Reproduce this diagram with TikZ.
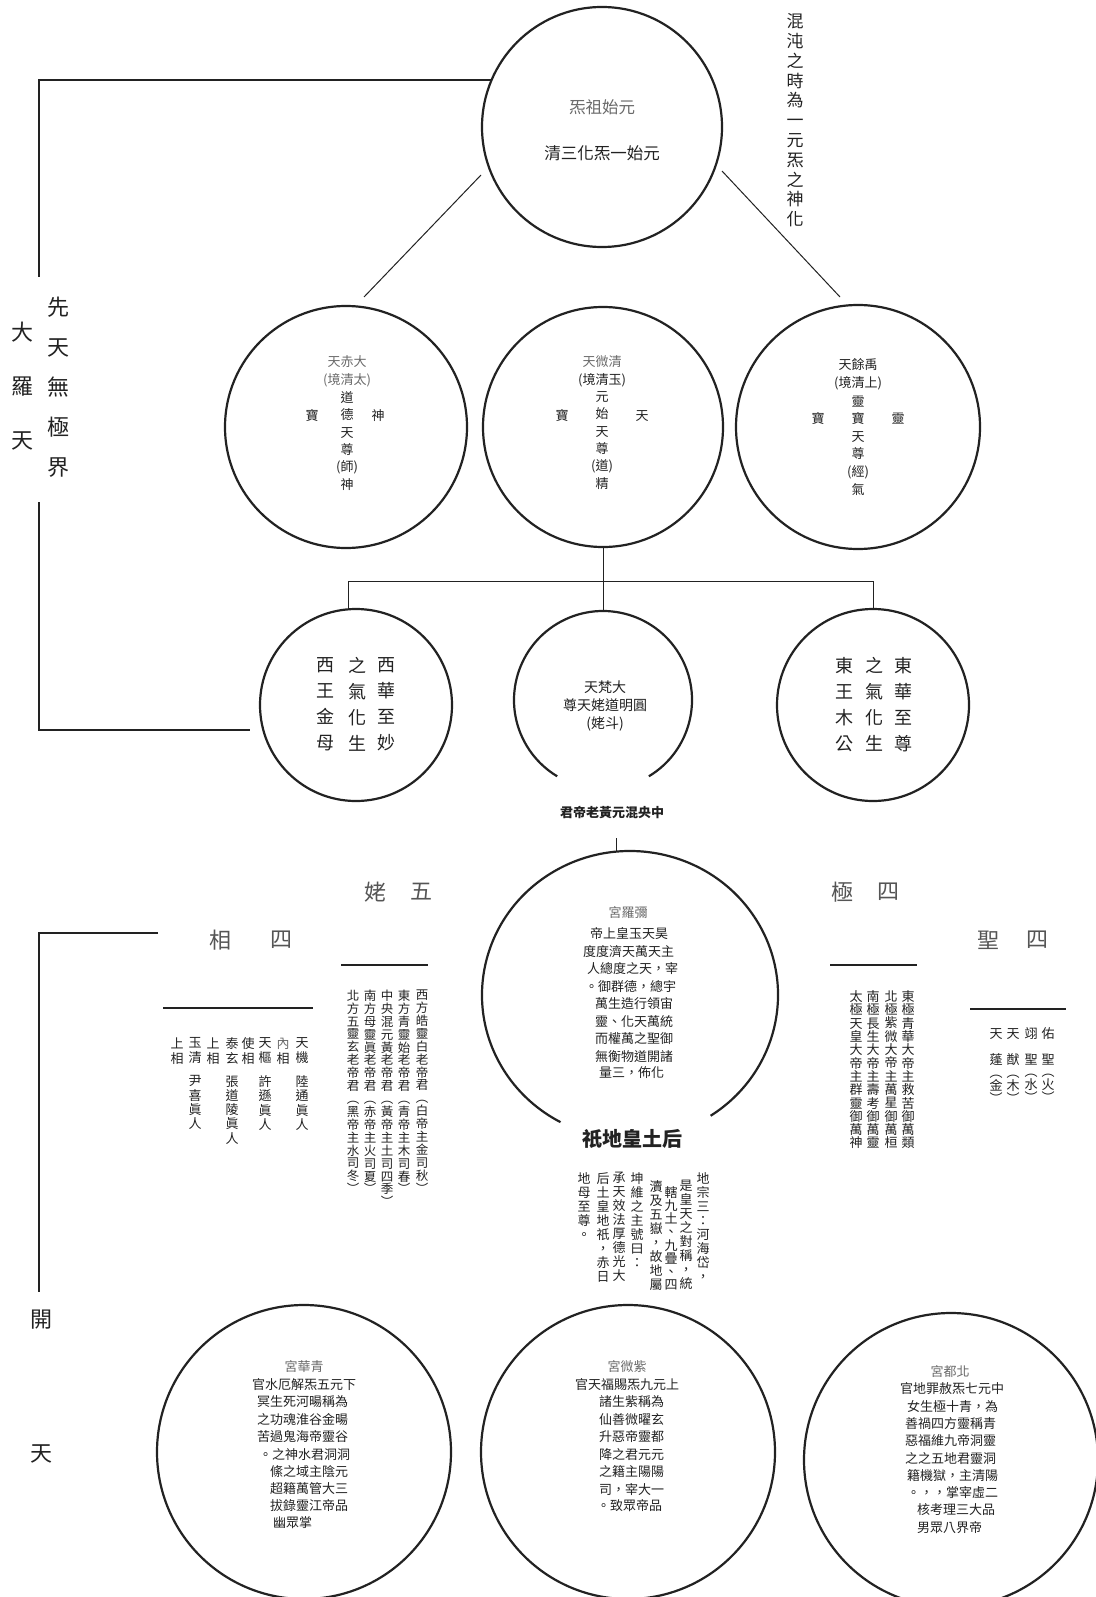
\documentclass[tikz,border=0pt]{standalone}
\usepackage{fontspec}
\setmainfont{Noto Sans CJK TC}
\usetikzlibrary{calc}
\definecolor{ink}{HTML}{222222}
\definecolor{ttl}{HTML}{6A6A6A}
\makeatletter
\newdimen\vtstep
\newcommand\vt[2]{\vtstep=#1\relax\vbox{\baselineskip=\vtstep\lineskip=0pt\lineskiplimit=-1000pt\expandafter\vt@a#2\@nil}}
\def\vt@a#1#2\@nil{\hbox to 1em{\hss#1\hss}\if\relax\detokenize{#2}\relax\else\vt@a#2\@nil\fi}
\makeatother
\tikzset{
  txt/.style={inner sep=0pt, text=ink, font=\fontsize{13}{15}\selectfont},
  ttxt/.style={txt, text=ttl},
  big/.style={txt, font=\fontsize{22}{24}\selectfont},
  hdr/.style={txt, text=ttl!80!black, font=\fontsize{22}{24}\selectfont},
  circ/.style={draw=ink, line width=2.2pt, circle, inner sep=0pt},
  arcl/.style={draw=ink, line width=2.2pt},
  conn/.style={draw=ink, line width=1pt},
  brk/.style={draw=ink, line width=2pt},
  bar/.style={draw=ink, line width=2.4pt},
}
\begin{document}
\begin{tikzpicture}[x=1pt,y=-1pt]
\useasboundingbox (0,0) rectangle (1095,1597);
\fill[white] (0,0) rectangle (1095,1597);

% ---------- top circle ----------
\node[circ, minimum size=240pt] (T) at (602,127) {};
\node[ttxt, font=\fontsize{16.5}{18}\selectfont] (T1) at (602,107) {炁祖始元};
\node[txt, font=\fontsize{16.5}{18}\selectfont] (T2) at (602,153) {清三化炁一始元};
\node[txt, anchor=north, font=\fontsize{17}{17}\selectfont] (RV) at (795,13.5) {\vt{19.8pt}{混沌之時為一元炁之神化}};

% ---------- left bracket (top) ----------
\coordinate (b2) at (39,277);
\coordinate (b3) at (39,502);
\coordinate (b4) at (39,730);
\coordinate (b5) at (250,730);
\draw[brk] (T.157) -- (T.157 -| b2) -- (b2);
\draw[brk] (b3) -- (b4) -- (b5);
\node[big, anchor=north] (XT) at (58,297) {\vt{40pt}{先天無極界}};
\node[big, anchor=north] (DL) at (23,322) {\vt{54pt}{大羅天}};

% ---------- row 2 ----------
\node[circ, minimum size=242pt] (L2) at (346,427) {};
\node[circ, minimum size=240pt] (M2) at (603,427) {};
\node[circ, minimum size=244pt] (R2) at (858,427) {};
\draw[conn] ($(T)+(-121,48)$) -- ($(L2)+(18,-130)$);
\draw[conn] ($(T)+(120,44)$) -- ($(R2)+(-18,-130)$);

\node[ttxt] (L2a) at (347,362) {天赤大};
\node[ttxt] (L2b) at (347,380) {(境清太)};
\node[txt, anchor=north] (L2c) at (347,391.5) {\vt{17.3pt}{道德天尊{(師)}神}};
\node[txt] (L2d) at (312,416) {寶};
\node[txt] (L2e) at (378,416) {神};

\node[ttxt] (M2a) at (602,362) {天微清};
\node[txt] (M2b) at (602,380) {(境清玉)};
\node[txt, anchor=north] (M2c) at (602,391.5) {\vt{17.3pt}{元始天尊{(道)}精}};
\node[txt] (M2d) at (562,416) {寶};
\node[txt] (M2e) at (642,416) {天};

\node[txt] (R2a) at (858,365) {天餘禹};
\node[txt] (R2b) at (858,383) {(境清上)};
\node[txt, anchor=north] (R2c) at (858,395.5) {\vt{17.6pt}{靈寶天尊{(經)}氣}};
\node[txt] (R2d) at (818,419) {寶};
\node[txt] (R2e) at (898,419) {靈};

% ---------- row 3 ----------
\node[circ, minimum size=192pt] (L3) at (356,705) {};
\node[circ, minimum size=192pt] (R3) at (873,705) {};
\coordinate (M3) at (603,700);
\draw[arcl] ($(M3)+(-59:89pt)$) arc[start angle=-59, end angle=239, radius=89pt];
\coordinate (M3top) at ($(M3)+(0,-89)$);
\coordinate (jm) at (603,581);
\coordinate (jl) at (348,581);
\coordinate (jr) at (873,581);
\draw[conn] (M2.south) -- (jm);
\draw[conn] (jl) -- (jr);
\draw[conn] (jl) -- (jl |- L3.north);
\draw[conn] (jm) -- (M3top);
\draw[conn] (jr) -- (R3.north);

\foreach \x/\s/\n in {325/西王金母/la, 357/之氣化生/lb, 386/西華至妙/lc, 844/東王木公/ra, 874/之氣化生/rb, 903/東華至尊/rc}
  \node[txt, anchor=north, font=\fontsize{18}{18}\selectfont] (w\n) at (\x,657) {\vt{26pt}{\s}};

\node[txt, font=\fontsize{14}{15}\selectfont] (M3a) at (605,687) {天梵大};
\node[txt, font=\fontsize{14}{15}\selectfont] (M3b) at (605,705) {尊天姥道明圓};
\node[txt, font=\fontsize{14}{15}\selectfont] (M3c) at (605,724) {(姥斗)};

\node[txt, font=\bfseries\fontsize{13}{15}\selectfont] (CC) at (612,813) {君帝老黃元混央中};

% ---------- central big circle ----------
\coordinate (C4) at (630,995);
\draw[arcl] ($(C4)+(-57:148pt and 144pt)$) arc[start angle=-57, end angle=242, x radius=148pt, y radius=144pt];
\coordinate (c4top) at ($(C4)+(-14,-144)$);
\draw[conn] ($(CC)+(4,25)$) -- (c4top);

\node[ttxt] (C4t) at (628,913) {宮羅彌};
\foreach \x/\y/\s/\n in {590/934/帝上皇玉天昊/1, 583/952/度度濟天萬天主/2, 587/969/人總度之天，宰/3, 585/987/。御群德，總宇/4, 595/1004/萬生造行領宙/5, 595/1022/靈、化天萬統/6, 595/1039/而權萬之聖御/7, 595/1057/無衡物道開諸/8, 599/1073/量三，佈化/9}
  \node[txt, anchor=west] (cl\n) at (\x,\y) {\s};

\node[txt, font=\bfseries\fontsize{20}{22}\selectfont] (DH) at (632,1139) {祇地皇土后};
\foreach \x/\y/\s/\n in {703/1172/地宗三：河海岱，/1, 686/1180/是皇天之對稱，統/2, 656/1180/瀆及五嶽，故地屬/4, 637/1172/坤維之主號曰：/5, 619/1172/承天效法厚德光大/6, 603/1172/后土皇地祇，赤日/7, 584/1172/地母至尊。/8}
  \node[txt, anchor=north] (dv\n) at (\x,\y) {\vt{14pt}{\s}};
\node[txt, anchor=north] (dv3) at (671,1186) {\vt{13.2pt}{轄九土、九疊、四}};

% ---------- five mothers ----------
\node[hdr] (h5a) at (375,892) {姥};
\node[hdr] (h5b) at (421,892) {五};
\draw[bar] (341,965) -- (428,965);
\foreach \x/\s/\n in {422/西方皓靈白老帝君︵白帝主金司秋︶/1, 404/東方青靈始老帝君︵青帝主木司春︶/2, 387/中央混元黃老帝君︵黃帝主土司四季︶/3, 370/南方母靈眞老帝君︵赤帝主火司夏︶/4, 353/北方五靈玄老帝君︵黑帝主水司冬︶/5}
  \node[txt, anchor=north, font=\fontsize{12.5}{13}\selectfont] (fm\n) at (\x,989.75) {\vt{12.9pt}{\s}};

% ---------- four ministers ----------
\node[hdr] (h4a) at (220,940) {相};
\node[hdr] (h4b) at (281,940) {四};
\draw[bar] (163,1008) -- (313,1008);
\foreach \x/\s/\n in {302/天機/1, 283/{{\color{ttl}內}}相/2, 265/天樞/3, 248/使相/4, 232/泰玄/5, 213/上相/6, 195/玉清/7, 177/上相/8}
  \node[txt, anchor=north] (fs\n) at (\x,1037.5) {\vt{15pt}{\s}};
\foreach \x/\s/\n in {302/陸通眞人/1, 265/許遜眞人/2, 232/張道陵眞人/3, 195/尹喜眞人/4}
  \node[txt, anchor=north] (fn\n) at (\x,1075.5) {\vt{14.3pt}{\s}};

% ---------- four poles ----------
\node[hdr] (hpa) at (842,892) {極};
\node[hdr] (hpb) at (888,892) {四};
\draw[bar] (830,965) -- (917,965);
\foreach \x/\s/\n in {908/東極青華大帝主救苦御萬類/1, 891/北極紫微大帝主萬星御萬桓/2, 873/南極長生大帝主壽考御萬靈/3, 856/太極天皇大帝主群靈御萬神/4}
  \node[txt, anchor=north] (fp\n) at (\x,990.5) {\vt{13.3pt}{\s}};

% ---------- four saints ----------
\node[hdr] (hsa) at (988,940) {聖};
\node[hdr] (hsb) at (1037,940) {四};
\draw[bar] (970,1009) -- (1066,1009);
\foreach \x/\a/\s/\n in {1048/佑/聖︵火︶/1, 1031/翊/聖︵水︶/2, 1013/天/猷︵木︶/3, 996/天/蓬︵金︶/4}
{
  \node[txt] (sa\n) at (\x,1034) {\a};
  \node[txt, anchor=north] (sb\n) at (\x,1053.5) {\vt{12.8pt}{\s}};
}

% ---------- lower bracket ----------
\coordinate (k1) at (158,933);
\coordinate (k2) at (39,933);
\coordinate (k3) at (39,1292);
\draw[brk] (k1) -- (k2) -- (k3);
\node[big] (KA) at (41,1320) {開};
\node[big] (KB) at (41,1454) {天};

% ---------- bottom circles ----------
\node[circ, minimum size=294pt] (BL) at (304,1452) {};
\node[circ, minimum size=294pt] (BM) at (628,1452) {};
\node[circ, minimum size=294pt] (BR) at (951,1460) {};

\node[ttxt] (BLt) at (304,1367) {宮華青};
\foreach \x/\y/\s/\n in {252/1385/官水厄解炁五元下/1, 257/1402/冥生死河暘稱為/2, 257/1420/之功魂淮谷金暘/3, 257/1437/苦過鬼海帝靈谷/4, 259/1455/。之神水君洞洞/5, 270/1472/絛之域主陰元/6, 270/1489/超籍萬管大三/7, 270/1506/拔錄靈江帝品/8, 273/1523/幽眾掌/9}
  \node[txt, anchor=west] (bl\n) at (\x,\y) {\s};

\node[ttxt] (BMt) at (627,1367) {宮微紫};
\foreach \x/\y/\s/\n in {575/1385/官天福賜炁九元上/1, 599/1402/諸生紫稱為/2, 599/1420/仙善微曜玄/3, 599/1437/升惡帝靈都/4, 599/1455/降之君元元/5, 599/1472/之籍主陽陽/6, 599/1489/司，宰大一/7, 597/1506/。致眾帝品/8}
  \node[txt, anchor=west] (bm\n) at (\x,\y) {\s};

\node[ttxt] (BRt) at (950,1372) {宮都北};
\foreach \x/\y/\s/\n in {900/1389/官地罪赦炁七元中/1, 907/1407/女生極十青，為/2, 905/1424/善禍四方靈稱青/3, 905/1441/惡福維九帝洞靈/4, 905/1459/之之五地君靈洞/5, 907/1476/籍機獄，主清陽/6, 907/1493/。，，掌宰虛二/7, 917/1510/核考理三大品/8, 917/1528/男眾八界帝/9}
  \node[txt, anchor=west] (br\n) at (\x,\y) {\s};
\end{tikzpicture}
\end{document}
